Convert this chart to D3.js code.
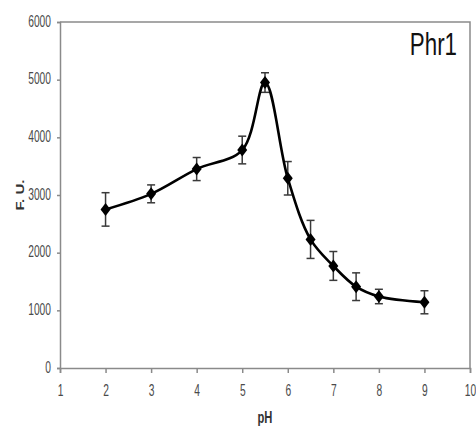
<!DOCTYPE html>
<html>
<head>
<meta charset="utf-8">
<script src="https://cdn.jsdelivr.net/npm/d3@7"></script>
<style>
  html, body { margin: 0; padding: 0; background: #fff; }
  svg { display: block; }
  text { font-family: "Liberation Sans", Arial, sans-serif; }
</style>
</head>
<body>
<svg id="chart" width="476" height="428"></svg>
<script>
// Fluorescence of Phr1 across pH
const phValues   = [2, 3, 4, 5, 5.5, 6, 6.5, 7, 7.5, 8, 9];
const fuValues   = [2750, 3020, 3450, 3780, 4950, 3290, 2230, 1770, 1410, 1240, 1140];
const fuErrors   = [290, 155, 200, 240, 170, 290, 330, 250, 240, 125, 200];
const xTickVals  = [1, 2, 3, 4, 5, 6, 7, 8, 9, 10];
const yTickVals  = [0, 1000, 2000, 3000, 4000, 5000, 6000];
const seriesName = "Phr1";

const svg = d3.select("#chart");
const m = { left: 60, right: 6, top: 22, bottom: 60 };
const W = 476, H = 428;
const sx = 0.64; // narrow lettering

const x = d3.scaleLinear().domain([1, 10]).range([m.left, W - m.right]);
const y = d3.scaleLinear().domain([0, 6000]).range([H - m.bottom, m.top]);

const axisColor = "#8a8a8a";

// frame: top and right border
svg.append("path")
  .attr("d", `M${x(1)},${y(6000)}H${x(10)}V${y(0)}`)
  .attr("fill", "none").attr("stroke", axisColor).attr("stroke-width", 1.5);

// x axis
const gx = svg.append("g").attr("transform", `translate(0,${y(0)})`)
  .call(d3.axisBottom(x).tickValues(xTickVals).tickSize(5).tickFormat(d3.format("d")));
gx.select(".domain").attr("stroke", axisColor).attr("stroke-width", 1.5);
gx.selectAll(".tick line").attr("stroke", axisColor).attr("stroke-width", 1.5);
gx.selectAll(".tick text").remove();
gx.selectAll(".tick").append("text")
  .attr("transform", `translate(0,24) scale(${sx},1)`)
  .attr("text-anchor", "middle")
  .attr("dominant-baseline", "middle")
  .attr("font-size", 16).attr("fill", "#4a4a4a")
  .text(d => d);

// y axis
const gy = svg.append("g").attr("transform", `translate(${x(1)},0)`)
  .call(d3.axisLeft(y).tickValues(yTickVals).tickSize(3).tickFormat(d3.format("d")));
gy.select(".domain").attr("stroke", axisColor).attr("stroke-width", 1.5);
gy.selectAll(".tick line").attr("stroke", axisColor).attr("stroke-width", 1.5);
gy.selectAll(".tick text").remove();
gy.selectAll(".tick").append("text")
  .attr("transform", `translate(-9,0) scale(${sx},1)`)
  .attr("text-anchor", "end")
  .attr("dominant-baseline", "middle")
  .attr("font-size", 16).attr("fill", "#4a4a4a")
  .text(d => d);

// axis titles
svg.append("text")
  .attr("transform", `translate(21,${(y(0) + y(6000)) / 2}) scale(0.78,1) rotate(-90)`)
  .attr("text-anchor", "middle")
  .attr("dominant-baseline", "middle")
  .attr("font-size", 15).attr("font-weight", "bold").attr("fill", "#333")
  .text("F. U.");

svg.append("text")
  .attr("transform", `translate(${(x(1) + x(10)) / 2},419) scale(0.7,1)`)
  .attr("text-anchor", "middle")
  .attr("dominant-baseline", "middle")
  .attr("font-size", 16).attr("font-weight", "bold").attr("fill", "#333")
  .text("pH");

// series label
svg.append("text")
  .attr("transform", `translate(457,55) scale(0.72,1)`)
  .attr("text-anchor", "end")
  .attr("font-size", 31).attr("fill", "#111")
  .text(seriesName);

const pts = phValues.map((p, i) => ({ p, v: fuValues[i], e: fuErrors[i] }));

// error bars
const eb = svg.append("g").attr("stroke", "#3a3a3a").attr("stroke-width", 1.5);
pts.forEach(d => {
  const cx = x(d.p), top = y(d.v + d.e), bot = y(d.v - d.e);
  eb.append("line").attr("x1", cx).attr("x2", cx).attr("y1", top).attr("y2", bot);
  eb.append("line").attr("x1", cx - 4).attr("x2", cx + 4).attr("y1", top).attr("y2", top);
  eb.append("line").attr("x1", cx - 4).attr("x2", cx + 4).attr("y1", bot).attr("y2", bot);
});

// smoothed line
const line = d3.line().x(d => x(d.p)).y(d => y(d.v)).curve(d3.curveCatmullRom.alpha(0.5));
svg.append("path").datum(pts)
  .attr("d", line)
  .attr("fill", "none").attr("stroke", "#000").attr("stroke-width", 2.6);

// diamond markers
svg.append("g").selectAll("path").data(pts).join("path")
  .attr("transform", d => `translate(${x(d.p)},${y(d.v)})`)
  .attr("d", "M0,-6.5L5,0L0,6.5L-5,0Z")
  .attr("fill", "#000");
</script>
</body>
</html>
